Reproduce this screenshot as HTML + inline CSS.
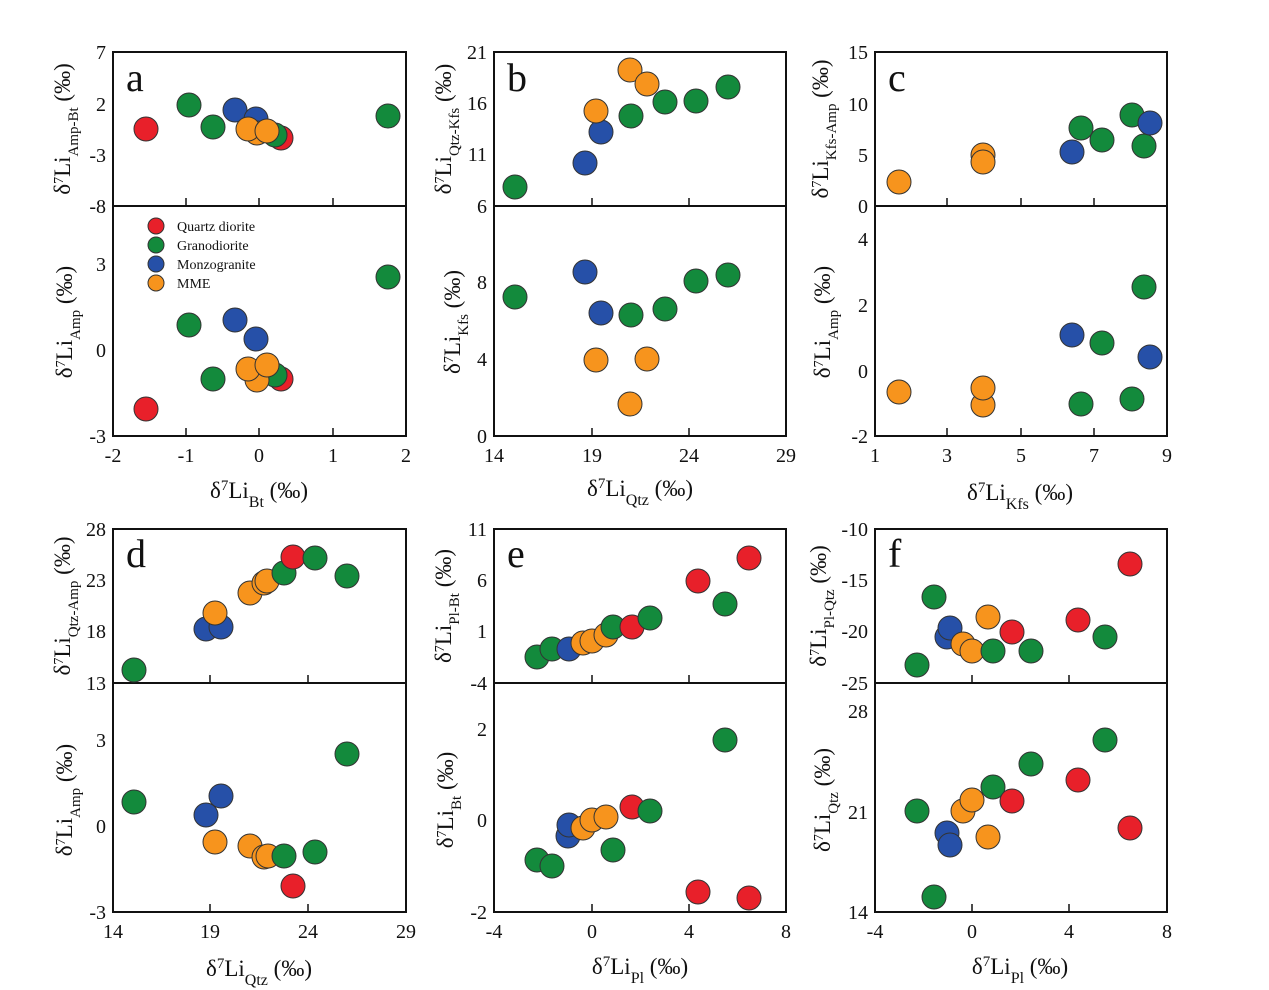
<!DOCTYPE html>
<html><head><meta charset="utf-8"><style>
html,body{margin:0;padding:0;background:#fff}
svg{display:block}
text{font-family:"Liberation Serif",serif;fill:#111}
.t{font-size:20px}
.lab{font-size:23px}
.let{font-size:40px}
.leg{font-size:14px}
circle{stroke:#333;stroke-width:1}
.r{fill:#e8202a}.g{fill:#138a3c}.b{fill:#2650a8}.o{fill:#f7941d}
.f{fill:none;stroke:#111;stroke-width:2}
.k{stroke:#111;stroke-width:1.5}
</style></head><body>
<svg width="1269" height="990" viewBox="0 0 1269 990" xmlns="http://www.w3.org/2000/svg">
<g class="f">
<rect x="113" y="52" width="293" height="384"/><line x1="113" y1="206" x2="406" y2="206"/>
<rect x="494" y="52" width="292" height="384"/><line x1="494" y1="206" x2="786" y2="206"/>
<rect x="875" y="52" width="292" height="384"/><line x1="875" y1="206" x2="1167" y2="206"/>
<rect x="113" y="529" width="293" height="383"/><line x1="113" y1="683" x2="406" y2="683"/>
<rect x="494" y="529" width="292" height="383"/><line x1="494" y1="683" x2="786" y2="683"/>
<rect x="875" y="529" width="292" height="383"/><line x1="875" y1="683" x2="1167" y2="683"/>
</g>
<g class="k">
<path d="M186 206v-8M259 206v-8M333 206v-8M186 436v-8M259 436v-8M333 436v-8"/>
<path d="M592 206v-8M689 206v-8M592 436v-8M689 436v-8"/>
<path d="M947 206v-8M1021 206v-8M1094 206v-8M947 436v-8M1021 436v-8M1094 436v-8"/>
<path d="M210 683v-8M308 683v-8M210 912v-8M308 912v-8"/>
<path d="M592 683v-8M689 683v-8M592 912v-8M689 912v-8"/>
<path d="M972 683v-8M1069 683v-8M972 912v-8M1069 912v-8"/>
</g>
<g class="t" text-anchor="end">
<text x="106" y="59">7</text><text x="106" y="111">2</text><text x="106" y="162">-3</text><text x="106" y="213">-8</text>
<text x="106" y="271">3</text><text x="106" y="357">0</text><text x="106" y="443">-3</text>
<text x="487" y="59">21</text><text x="487" y="110">16</text><text x="487" y="161">11</text><text x="487" y="213">6</text>
<text x="487" y="289">8</text><text x="487" y="366">4</text><text x="487" y="443">0</text>
<text x="868" y="59">15</text><text x="868" y="111">10</text><text x="868" y="162">5</text><text x="868" y="213">0</text>
<text x="868" y="246">4</text><text x="868" y="312">2</text><text x="868" y="378">0</text><text x="868" y="443">-2</text>
<text x="106" y="536">28</text><text x="106" y="587">23</text><text x="106" y="638">18</text><text x="106" y="690">13</text>
<text x="106" y="747">3</text><text x="106" y="833">0</text><text x="106" y="919">-3</text>
<text x="487" y="536">11</text><text x="487" y="587">6</text><text x="487" y="638">1</text><text x="487" y="690">-4</text>
<text x="487" y="736">2</text><text x="487" y="827">0</text><text x="487" y="919">-2</text>
<text x="868" y="536">-10</text><text x="868" y="587">-15</text><text x="868" y="638">-20</text><text x="868" y="690">-25</text>
<text x="868" y="718">28</text><text x="868" y="819">21</text><text x="868" y="919">14</text>
</g>
<g class="t" text-anchor="middle">
<text x="113" y="462">-2</text><text x="186" y="462">-1</text><text x="259" y="462">0</text><text x="333" y="462">1</text><text x="406" y="462">2</text>
<text x="494" y="462">14</text><text x="592" y="462">19</text><text x="689" y="462">24</text><text x="786" y="462">29</text>
<text x="875" y="462">1</text><text x="947" y="462">3</text><text x="1021" y="462">5</text><text x="1094" y="462">7</text><text x="1167" y="462">9</text>
<text x="113" y="938">14</text><text x="210" y="938">19</text><text x="308" y="938">24</text><text x="406" y="938">29</text>
<text x="494" y="938">-4</text><text x="592" y="938">0</text><text x="689" y="938">4</text><text x="786" y="938">8</text>
<text x="875" y="938">-4</text><text x="972" y="938">0</text><text x="1069" y="938">4</text><text x="1167" y="938">8</text>
</g>
<g class="lab" text-anchor="middle">
<text x="259" y="498">δ<tspan baseline-shift="super" font-size="15">7</tspan>Li<tspan baseline-shift="sub" font-size="16">Bt</tspan> (‰)</text>
<text x="640" y="496">δ<tspan baseline-shift="super" font-size="15">7</tspan>Li<tspan baseline-shift="sub" font-size="16">Qtz</tspan> (‰)</text>
<text x="1020" y="500">δ<tspan baseline-shift="super" font-size="15">7</tspan>Li<tspan baseline-shift="sub" font-size="16">Kfs</tspan> (‰)</text>
<text x="259" y="976">δ<tspan baseline-shift="super" font-size="15">7</tspan>Li<tspan baseline-shift="sub" font-size="16">Qtz</tspan> (‰)</text>
<text x="640" y="974">δ<tspan baseline-shift="super" font-size="15">7</tspan>Li<tspan baseline-shift="sub" font-size="16">Pl</tspan> (‰)</text>
<text x="1020" y="974">δ<tspan baseline-shift="super" font-size="15">7</tspan>Li<tspan baseline-shift="sub" font-size="16">Pl</tspan> (‰)</text>
</g>
<g class="lab" text-anchor="middle">
<text transform="translate(70,129) rotate(-90)">δ<tspan baseline-shift="super" font-size="14">7</tspan>Li<tspan baseline-shift="sub" font-size="15">Amp-Bt</tspan> (‰)</text>
<text transform="translate(72,322) rotate(-90)">δ<tspan baseline-shift="super" font-size="14">7</tspan>Li<tspan baseline-shift="sub" font-size="15">Amp</tspan> (‰)</text>
<text transform="translate(451,129) rotate(-90)">δ<tspan baseline-shift="super" font-size="14">7</tspan>Li<tspan baseline-shift="sub" font-size="15">Qtz-Kfs</tspan> (‰)</text>
<text transform="translate(460,322) rotate(-90)">δ<tspan baseline-shift="super" font-size="14">7</tspan>Li<tspan baseline-shift="sub" font-size="15">Kfs</tspan> (‰)</text>
<text transform="translate(828,129) rotate(-90)">δ<tspan baseline-shift="super" font-size="14">7</tspan>Li<tspan baseline-shift="sub" font-size="15">Kfs-Amp</tspan> (‰)</text>
<text transform="translate(830,322) rotate(-90)">δ<tspan baseline-shift="super" font-size="14">7</tspan>Li<tspan baseline-shift="sub" font-size="15">Amp</tspan> (‰)</text>
<text transform="translate(70,606) rotate(-90)">δ<tspan baseline-shift="super" font-size="14">7</tspan>Li<tspan baseline-shift="sub" font-size="15">Qtz-Amp</tspan> (‰)</text>
<text transform="translate(72,800) rotate(-90)">δ<tspan baseline-shift="super" font-size="14">7</tspan>Li<tspan baseline-shift="sub" font-size="15">Amp</tspan> (‰)</text>
<text transform="translate(451,606) rotate(-90)">δ<tspan baseline-shift="super" font-size="14">7</tspan>Li<tspan baseline-shift="sub" font-size="15">Pl-Bt</tspan> (‰)</text>
<text transform="translate(453,800) rotate(-90)">δ<tspan baseline-shift="super" font-size="14">7</tspan>Li<tspan baseline-shift="sub" font-size="15">Bt</tspan> (‰)</text>
<text transform="translate(826,606) rotate(-90)">δ<tspan baseline-shift="super" font-size="14">7</tspan>Li<tspan baseline-shift="sub" font-size="15">Pl-Qtz</tspan> (‰)</text>
<text transform="translate(830,800) rotate(-90)">δ<tspan baseline-shift="super" font-size="14">7</tspan>Li<tspan baseline-shift="sub" font-size="15">Qtz</tspan> (‰)</text>
</g>
<g class="let">
<text x="126" y="91">a</text><text x="507" y="91">b</text><text x="888" y="91">c</text>
<text x="126" y="567">d</text><text x="507" y="567">e</text><text x="888" y="567">f</text>
</g>
<circle class="r" cx="156" cy="226" r="8"/><circle class="g" cx="156" cy="245" r="8"/>
<circle class="b" cx="156" cy="264" r="8"/><circle class="o" cx="156" cy="283" r="8"/>
<g class="leg"><text x="177" y="231">Quartz diorite</text><text x="177" y="250">Granodiorite</text><text x="177" y="269">Monzogranite</text><text x="177" y="288">MME</text></g>
<g>
<circle class="r" cx="146" cy="129" r="12"/><circle class="g" cx="189" cy="105" r="12"/><circle class="g" cx="213" cy="127" r="12"/>
<circle class="r" cx="281" cy="138" r="12"/><circle class="g" cx="275" cy="135" r="12"/><circle class="g" cx="388" cy="116" r="12"/>
<circle class="b" cx="235" cy="110" r="12"/><circle class="b" cx="256" cy="119" r="12"/>
<circle class="o" cx="257" cy="133" r="12"/><circle class="o" cx="248" cy="129" r="12"/><circle class="o" cx="267" cy="131" r="12"/>
<circle class="r" cx="146" cy="409" r="12"/><circle class="g" cx="189" cy="325" r="12"/><circle class="g" cx="213" cy="379" r="12"/>
<circle class="r" cx="281" cy="379" r="12"/><circle class="g" cx="275" cy="375" r="12"/><circle class="g" cx="388" cy="277" r="12"/>
<circle class="b" cx="235" cy="320" r="12"/><circle class="b" cx="256" cy="339" r="12"/>
<circle class="o" cx="257" cy="380" r="12"/><circle class="o" cx="248" cy="369" r="12"/><circle class="o" cx="267" cy="365" r="12"/>
</g>
<g>
<circle class="g" cx="515" cy="187" r="12"/><circle class="g" cx="631" cy="116" r="12"/><circle class="g" cx="665" cy="102" r="12"/><circle class="g" cx="696" cy="101" r="12"/><circle class="g" cx="728" cy="87" r="12"/>
<circle class="b" cx="585" cy="163" r="12"/><circle class="b" cx="601" cy="132" r="12"/>
<circle class="o" cx="596" cy="111" r="12"/><circle class="o" cx="630" cy="70" r="12"/><circle class="o" cx="647" cy="84" r="12"/>
<circle class="g" cx="515" cy="297" r="12"/><circle class="g" cx="631" cy="315" r="12"/><circle class="g" cx="665" cy="309" r="12"/><circle class="g" cx="696" cy="281" r="12"/><circle class="g" cx="728" cy="275" r="12"/>
<circle class="b" cx="585" cy="272" r="12"/><circle class="b" cx="601" cy="313" r="12"/>
<circle class="o" cx="596" cy="360" r="12"/><circle class="o" cx="630" cy="404" r="12"/><circle class="o" cx="647" cy="359" r="12"/>
</g>
<g>
<circle class="o" cx="899" cy="182" r="12"/><circle class="o" cx="983" cy="155" r="12"/><circle class="o" cx="983" cy="162" r="12"/>
<circle class="b" cx="1072" cy="152" r="12"/><circle class="g" cx="1081" cy="128" r="12"/><circle class="g" cx="1102" cy="140" r="12"/><circle class="g" cx="1132" cy="115" r="12"/><circle class="g" cx="1144" cy="146" r="12"/><circle class="b" cx="1150" cy="123" r="12"/>
<circle class="o" cx="899" cy="392" r="12"/><circle class="o" cx="983" cy="405" r="12"/><circle class="o" cx="983" cy="388" r="12"/>
<circle class="b" cx="1072" cy="335" r="12"/><circle class="g" cx="1081" cy="404" r="12"/><circle class="g" cx="1102" cy="343" r="12"/><circle class="g" cx="1132" cy="399" r="12"/><circle class="g" cx="1144" cy="287" r="12"/><circle class="b" cx="1150" cy="357" r="12"/>
</g>
<g>
<circle class="g" cx="134" cy="670" r="12"/><circle class="b" cx="206" cy="629" r="12"/><circle class="b" cx="221" cy="627" r="12"/><circle class="o" cx="215" cy="613" r="12"/>
<circle class="o" cx="250" cy="593" r="12"/><circle class="o" cx="264" cy="583" r="12"/><circle class="o" cx="267" cy="581" r="12"/>
<circle class="g" cx="284" cy="573" r="12"/><circle class="r" cx="293" cy="557" r="12"/><circle class="g" cx="315" cy="558" r="12"/><circle class="g" cx="347" cy="576" r="12"/>
<circle class="g" cx="134" cy="802" r="12"/><circle class="b" cx="206" cy="815" r="12"/><circle class="b" cx="221" cy="796" r="12"/><circle class="o" cx="215" cy="842" r="12"/>
<circle class="o" cx="250" cy="846" r="12"/><circle class="o" cx="264" cy="857" r="12"/><circle class="o" cx="268" cy="856" r="12"/>
<circle class="g" cx="284" cy="856" r="12"/><circle class="r" cx="293" cy="886" r="12"/><circle class="g" cx="315" cy="852" r="12"/><circle class="g" cx="347" cy="754" r="12"/>
</g>
<g>
<circle class="g" cx="537" cy="657" r="12"/><circle class="g" cx="552" cy="649" r="12"/><circle class="b" cx="569" cy="649" r="12"/>
<circle class="o" cx="583" cy="643" r="12"/><circle class="o" cx="592" cy="641" r="12"/><circle class="o" cx="606" cy="635" r="12"/>
<circle class="g" cx="613" cy="627" r="12"/><circle class="r" cx="632" cy="627" r="12"/><circle class="g" cx="650" cy="618" r="12"/>
<circle class="r" cx="698" cy="581" r="12"/><circle class="g" cx="725" cy="604" r="12"/><circle class="r" cx="749" cy="558" r="12"/>
<circle class="g" cx="537" cy="860" r="12"/><circle class="g" cx="552" cy="866" r="12"/><circle class="b" cx="568" cy="836" r="12"/><circle class="b" cx="569" cy="825" r="12"/>
<circle class="o" cx="583" cy="828" r="12"/><circle class="o" cx="592" cy="820" r="12"/><circle class="o" cx="606" cy="817" r="12"/>
<circle class="g" cx="613" cy="850" r="12"/><circle class="r" cx="632" cy="807" r="12"/><circle class="g" cx="650" cy="811" r="12"/>
<circle class="r" cx="698" cy="892" r="12"/><circle class="g" cx="725" cy="740" r="12"/><circle class="r" cx="749" cy="898" r="12"/>
</g>
<g>
<circle class="g" cx="917" cy="665" r="12"/><circle class="g" cx="934" cy="597" r="12"/><circle class="b" cx="947" cy="637" r="12"/><circle class="b" cx="950" cy="628" r="12"/>
<circle class="o" cx="963" cy="644" r="12"/><circle class="o" cx="972" cy="651" r="12"/><circle class="o" cx="988" cy="617" r="12"/>
<circle class="g" cx="993" cy="651" r="12"/><circle class="r" cx="1012" cy="632" r="12"/><circle class="g" cx="1031" cy="651" r="12"/>
<circle class="r" cx="1078" cy="620" r="12"/><circle class="g" cx="1105" cy="637" r="12"/><circle class="r" cx="1130" cy="564" r="12"/>
<circle class="g" cx="917" cy="811" r="12"/><circle class="g" cx="934" cy="897" r="12"/><circle class="b" cx="947" cy="833" r="12"/><circle class="b" cx="950" cy="845" r="12"/>
<circle class="o" cx="963" cy="811" r="12"/><circle class="o" cx="972" cy="800" r="12"/><circle class="o" cx="988" cy="837" r="12"/>
<circle class="g" cx="993" cy="787" r="12"/><circle class="r" cx="1012" cy="801" r="12"/><circle class="g" cx="1031" cy="764" r="12"/>
<circle class="r" cx="1078" cy="780" r="12"/><circle class="g" cx="1105" cy="740" r="12"/><circle class="r" cx="1130" cy="828" r="12"/>
</g>
</svg>
</body></html>
